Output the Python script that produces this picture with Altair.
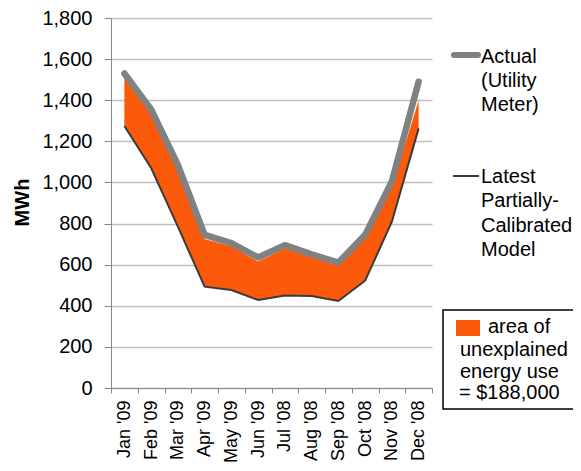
import altair as alt
import pandas as pd

months = ["Jan '09", "Feb '09", "Mar '09", "Apr '09", "May '09", "Jun '09",
          "Jul '08", "Aug '08", "Sep '08", "Oct '08", "Nov '08", "Dec '08"]
actual = [1530, 1355, 1085, 745, 705, 635, 695, 650, 610, 745, 1005, 1490]
model = [1275, 1070, 785, 493, 477, 428, 450, 448, 423, 522, 809, 1263]
area_top = [1508, 1330, 1060, 725, 690, 615, 680, 635, 595, 725, 975, 1400]
y_ticks = [0, 200, 400, 600, 800, 1000, 1200, 1400, 1600, 1800]

legend_actual = ["Actual", "(Utility", "Meter)"]
legend_model = ["Latest", "Partially-", "Calibrated", "Model"]
legend_box = ["area of", "unexplained", "energy use", "= $188,000"]

df = pd.DataFrame({"month": months, "actual": actual, "model": model, "top": area_top})

FONT = "Liberation Sans"
ORANGE = "#FB5A0A"
GRAY = "#818181"
DARK = "#3a3a3a"

xenc = alt.X("month:N", sort=months, bandPosition=0.5,
             scale=alt.Scale(type="band", paddingInner=0, paddingOuter=0),
             axis=alt.Axis(title=None, labelAngle=270, labelFontSize=18, labelFont=FONT,
                           labelColor="black", tickBand="extent", tickSize=5,
                           tickColor="#888", domainColor="#888", labelPadding=7,
                           grid=False))
yscale = alt.Scale(domain=[0, 1800], nice=False)
yaxis = alt.Axis(title="MWh", values=y_ticks, format=",d", labelFontSize=20, labelFont=FONT,
                 labelColor="black", tickSize=7, tickColor="#888", domainColor="#888",
                 labelPadding=12, gridColor="#c0c0c0", gridWidth=1.5,
                 titleFont=FONT, titleFontSize=20, titleFontWeight="bold", titleColor="black",
                 titleAngle=270, titleX=-89, titleY=184, titleAlign="center",
                 titleBaseline="middle")

base = alt.Chart(df)
area = base.mark_area(color=ORANGE, opacity=1).encode(
    x=xenc, y=alt.Y("model:Q", scale=yscale, axis=yaxis), y2="top:Q")
model_line = base.mark_line(color=DARK, strokeWidth=2).encode(
    x=alt.X("month:N", sort=months, bandPosition=0.5), y=alt.Y("model:Q"))
actual_line = base.mark_line(color=GRAY, strokeWidth=6.5, strokeCap="round", strokeJoin="round").encode(
    x=alt.X("month:N", sort=months, bandPosition=0.5), y=alt.Y("actual:Q"))

one = alt.Chart(pd.DataFrame({"a": [0]}))
layers = [area, model_line, actual_line]

layers.append(one.mark_rule(color=GRAY, strokeWidth=6, strokeCap="round").encode(
    x=alt.value(343), x2=alt.value(367), y=alt.value(37)))
layers.append(one.mark_rule(color=DARK, strokeWidth=2).encode(
    x=alt.value(342), x2=alt.value(368), y=alt.value(158)))


def text_line(s, x, y):
    return one.mark_text(align="left", baseline="middle", font=FONT, fontSize=20,
                         color="black").encode(x=alt.value(x), y=alt.value(y), text=alt.value(s))


for i, s in enumerate(legend_actual):
    layers.append(text_line(s, 370, 39 + 24 * i))
for i, s in enumerate(legend_model):
    layers.append(text_line(s, 370, 159 + 24.3 * i))

layers.append(one.mark_rect(fill="white", stroke="black", strokeWidth=1.5).encode(
    x=alt.value(332), x2=alt.value(490), y=alt.value(292), y2=alt.value(391)))
layers.append(one.mark_rect(fill=ORANGE).encode(
    x=alt.value(345), x2=alt.value(369), y=alt.value(302), y2=alt.value(318)))
box_pos = [(377, 309), (349, 332), (349, 354), (348, 375)]
for s, (x, y) in zip(legend_box, box_pos):
    layers.append(text_line(s, x, y))

chart = alt.layer(*layers).properties(
    width=321, height=370, autosize="none",
    padding={"left": 103, "top": 10, "right": 141, "bottom": 75},
    background="white",
).configure_view(stroke=None)

chart.save("out.html", embed_options={"renderer": "svg", "actions": False})
